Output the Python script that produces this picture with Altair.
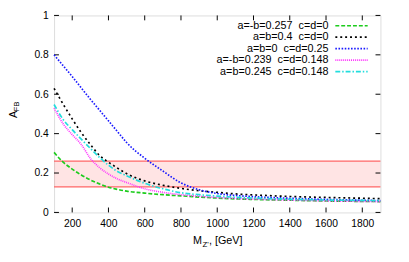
import altair as alt
import pandas as pd

# ---- data ----
mz = [100, 150, 200, 250, 300, 350, 400, 450, 500, 600, 700, 800, 900, 1000, 1100, 1200, 1400, 1600, 1800, 1900]
green = [0.305, 0.255, 0.22, 0.19, 0.165, 0.145, 0.128, 0.117, 0.108, 0.098, 0.09, 0.084, 0.078, 0.073, 0.069, 0.066, 0.062, 0.058, 0.056, 0.055]
black = [0.63, 0.55, 0.475, 0.405, 0.345, 0.29, 0.255, 0.225, 0.197, 0.16, 0.138, 0.122, 0.11, 0.102, 0.094, 0.089, 0.081, 0.076, 0.072, 0.07]
blue = [0.80, 0.745, 0.69, 0.632, 0.575, 0.52, 0.465, 0.41, 0.355, 0.275, 0.21, 0.15, 0.115, 0.096, 0.086, 0.08, 0.072, 0.066, 0.062, 0.06]
magenta = [0.53, 0.45, 0.395, 0.345, 0.275, 0.228, 0.195, 0.17, 0.152, 0.12, 0.102, 0.09, 0.082, 0.076, 0.071, 0.068, 0.063, 0.059, 0.056, 0.055]
cyan = [0.548, 0.472, 0.42, 0.372, 0.325, 0.28, 0.24, 0.208, 0.186, 0.148, 0.12, 0.1, 0.09, 0.083, 0.077, 0.073, 0.067, 0.063, 0.061, 0.06]

labels = ["a=-b=0.257\u00a0 c=d=0", "a=b=0.4\u00a0 c=d=0", "a=b=0\u00a0 c=d=0.25",
          "a=-b=0.239\u00a0 c=d=0.148", "a=b=0.245\u00a0 c=d=0.148"]
series = [green, black, blue, magenta, cyan]
colors = ["#1ccc1c", "#000000", "#1a1aff", "#ff33ff", "#22dddd"]
dashes = [[4, 2], [2, 3], [1.6, 1.6], [1, 1], [5, 2, 1.5, 2]]

band_x = [100, 1900]
band_lo = 0.13
band_hi = 0.26

x_ticks = [200, 400, 600, 800, 1000, 1200, 1400, 1600, 1800]
y_ticks = [0, 0.2, 0.4, 0.6, 0.8, 1]

y_title_main, y_title_sub = "A", "FB"
x_title_main, x_title_sub, x_title_rest = "M", "Z'", ", [GeV]"

FONT = "Liberation Sans"
W, H = 333, 201

rows = []
for lab, vals in zip(labels, series):
    for x, v in zip(mz, vals):
        rows.append({"mz": x, "afb": v, "series": lab})
df = pd.DataFrame(rows)

xscale = alt.Scale(domain=[100, 1900], nice=False, zero=False)
yscale = alt.Scale(domain=[0, 1], nice=False, zero=False)
xaxis = alt.Axis(values=x_ticks, format="d", tickSize=0, domain=False, grid=False,
                 labelPadding=6, labelFontSize=10.5, labelFont=FONT, labelColor="black",
                 title=None)
yaxis = alt.Axis(values=y_ticks, format="~g", tickSize=0, domain=False, grid=False,
                 labelPadding=6, labelFontSize=10.5, labelFont=FONT, labelColor="black",
                 title=None)

band_df = pd.DataFrame({"x0": [band_x[0]], "x1": [band_x[1]], "lo": [band_lo], "hi": [band_hi]})
band = alt.Chart(band_df).mark_rect(color="#ff2020", opacity=0.12).encode(
    x=alt.X("x0:Q", scale=xscale, axis=xaxis), x2="x1:Q",
    y=alt.Y("lo:Q", scale=yscale, axis=yaxis), y2="hi:Q")

edge_df = pd.DataFrame({"v": [band_lo, band_hi]})
edges = alt.Chart(edge_df).mark_rule(color="#ff5555", strokeWidth=1.3, opacity=0.9).encode(
    x=alt.value(0), x2=alt.value(W),
    y=alt.Y("v:Q", scale=yscale, axis=yaxis))

lines = alt.Chart(df).mark_line(strokeWidth=1.7, interpolate="monotone").encode(
    x=alt.X("mz:Q", scale=xscale, axis=xaxis),
    y=alt.Y("afb:Q", scale=yscale, axis=yaxis),
    color=alt.Color("series:N", scale=alt.Scale(domain=labels, range=colors), legend=None),
    strokeDash=alt.StrokeDash("series:N", scale=alt.Scale(domain=labels, range=dashes), legend=None),
)

xt = pd.DataFrame({"t": x_ticks})
yt = pd.DataFrame({"t": y_ticks})
tick_style = dict(color="black", strokeWidth=1)
xt_bottom = alt.Chart(xt).mark_rule(**tick_style).encode(
    x=alt.X("t:Q", scale=xscale, axis=xaxis), y=alt.value(H), y2=alt.value(H - 5))
xt_top = alt.Chart(xt).mark_rule(**tick_style).encode(
    x=alt.X("t:Q", scale=xscale, axis=xaxis), y=alt.value(0), y2=alt.value(5))
yt_left = alt.Chart(yt).mark_rule(**tick_style).encode(
    y=alt.Y("t:Q", scale=yscale, axis=yaxis), x=alt.value(0), x2=alt.value(5))
yt_right = alt.Chart(yt).mark_rule(**tick_style).encode(
    y=alt.Y("t:Q", scale=yscale, axis=yaxis), x=alt.value(W), x2=alt.value(W - 5))


def txt(s, x, y, size, align="center", baseline="middle", angle=0):
    return alt.Chart(pd.DataFrame({"s": [s]})).mark_text(
        font=FONT, fontSize=size, align=align, baseline=baseline, angle=angle, color="black"
    ).encode(text="s:N", x=alt.value(x), y=alt.value(y))


# legend (gnuplot style: text right-aligned, sample line to its right)
legend_layers = []
for i, (lab, col, dash) in enumerate(zip(labels, colors, dashes)):
    ry = 10.5 + i * 11.7
    legend_layers.append(
        alt.Chart(pd.DataFrame({"s": [lab]})).mark_text(
            font=FONT, fontSize=11, align="right", baseline="middle", color="black"
        ).encode(text="s:N", x=alt.value(280), y=alt.value(ry)))
    legend_layers.append(
        alt.Chart(pd.DataFrame({"s": [lab]})).mark_rule(
            color=col, strokeDash=dash, strokeWidth=1.7
        ).encode(x=alt.value(287), x2=alt.value(320), y=alt.value(ry)))

titles = [
    txt(y_title_main, -40.5, 101, 11, angle=270),
    txt(y_title_sub, -38, 93, 8, angle=270),
    txt(x_title_main, 151, 233, 11, align="right", baseline="alphabetic"),
    txt(x_title_sub, 151.5, 236, 8, align="left", baseline="alphabetic"),
    txt(x_title_rest, 158, 233, 11, align="left", baseline="alphabetic"),
]

chart = alt.layer(band, edges, xt_bottom, xt_top, yt_left, yt_right, lines,
                  *legend_layers, *titles).properties(
    width=W, height=H,
    autosize=alt.AutoSizeParams(type="none"),
    padding={"left": 47, "top": 5, "right": 21, "bottom": 48},
).configure_view(stroke="black", strokeWidth=1).configure(background="white")

chart.save("out.html", embed_options={"renderer": "svg", "actions": False})
